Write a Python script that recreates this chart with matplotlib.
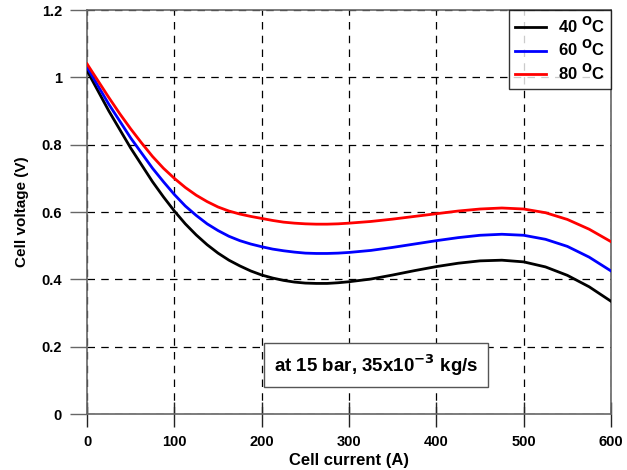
import matplotlib
matplotlib.use("Agg")
from matplotlib import pyplot as plt

# corriente de la celda (A) y tension (V)
corriente = [0, 12.5, 25, 37.5, 50, 62.5, 75, 87.5, 100, 112.5, 125, 137.5, 150,
             162.5, 175, 187.5, 200, 212.5, 225, 237.5, 250, 262.5, 275, 287.5, 300,
             325, 350, 375, 400, 425, 450, 475, 500, 525, 550, 575, 600]
v_40 = [1.02, 0.96, 0.90, 0.845, 0.79, 0.74, 0.69, 0.645, 0.603, 0.565, 0.532, 0.503, 0.478,
        0.457, 0.44, 0.425, 0.413, 0.404, 0.397, 0.392, 0.389, 0.388, 0.388, 0.39, 0.393,
        0.401, 0.413, 0.426, 0.438, 0.448, 0.455, 0.457, 0.452, 0.437, 0.412, 0.378, 0.335]
v_60 = [1.03, 0.975, 0.92, 0.87, 0.82, 0.775, 0.73, 0.69, 0.652, 0.618, 0.59, 0.565, 0.545,
        0.528, 0.515, 0.505, 0.497, 0.49, 0.485, 0.481, 0.478, 0.477, 0.477, 0.478, 0.48,
        0.486, 0.495, 0.505, 0.515, 0.524, 0.531, 0.534, 0.531, 0.519, 0.498, 0.466, 0.425]
v_80 = [1.04, 0.99, 0.94, 0.892, 0.847, 0.805, 0.765, 0.73, 0.70, 0.673, 0.65, 0.631, 0.615,
        0.603, 0.594, 0.587, 0.581, 0.575, 0.57, 0.567, 0.565, 0.564, 0.564, 0.565, 0.567,
        0.572, 0.579, 0.587, 0.595, 0.603, 0.609, 0.612, 0.609, 0.598, 0.578, 0.549, 0.512]
etiquetas = [r'40 $^{\mathbf{O}}$C', r'60 $^{\mathbf{O}}$C', r'80 $^{\mathbf{O}}$C']
colores = ['black', 'blue', 'red']

plt.rcParams['font.family'] = ['Liberation Sans', 'DejaVu Sans']
plt.rcParams['font.weight'] = 'bold'
plt.rcParams['mathtext.default'] = 'bf'

fig = plt.figure(figsize=(6.27, 4.70), dpi=100)
ax = fig.add_axes([0.1388, 0.119, 0.8357, 0.8597])

for v, lab, col in zip([v_40, v_60, v_80], etiquetas, colores):
    ax.plot(corriente, v, color=col, linewidth=2, label=lab, zorder=3)

ax.set_xlim(0, 600)
ax.set_ylim(0, 1.2)
ax.set_xticks(range(0, 601, 100))
ax.set_yticks([0, 0.2, 0.4, 0.6, 0.8, 1, 1.2])
ax.set_yticklabels(['0', '0.2', '0.4', '0.6', '0.8', '1', '1.2'])
ax.grid(True, color='black', linestyle=(0, (6, 5)), linewidth=0.9)
for s in ax.spines.values():
    s.set_color('#666666')
    s.set_linewidth(1.2)
ax.tick_params(axis='x', direction='inout', length=18, width=1, color='#222222',
               labelsize=10.5, pad=6)
ax.tick_params(axis='y', direction='out', length=12, width=1, color='#666666',
               labelsize=10.5, pad=6)
for t in ax.get_xticklabels() + ax.get_yticklabels():
    t.set_fontweight('bold')

ax.set_xlabel('Cell current (A)', fontsize=12, fontweight='bold', labelpad=3)
ax.set_ylabel('Cell voltage (V)', fontsize=11, fontweight='bold', labelpad=9)

leg = ax.legend(loc='upper right', fontsize=12, frameon=True, fancybox=False,
                edgecolor='black', borderaxespad=0, handlelength=1.9,
                handletextpad=0.7, borderpad=0.35, labelspacing=0.2)
leg.get_frame().set_linewidth(1)
for t in leg.get_texts():
    t.set_fontweight('bold')

ax.text(331, 0.145, r'at 15 bar, 35x10$^{-3}$ kg/s', fontsize=13.5, fontweight='bold',
        ha='center', va='center', zorder=4,
        bbox=dict(boxstyle='square,pad=0.5', facecolor='white', edgecolor='#555555'))

fig.savefig('out.png', dpi=100)
